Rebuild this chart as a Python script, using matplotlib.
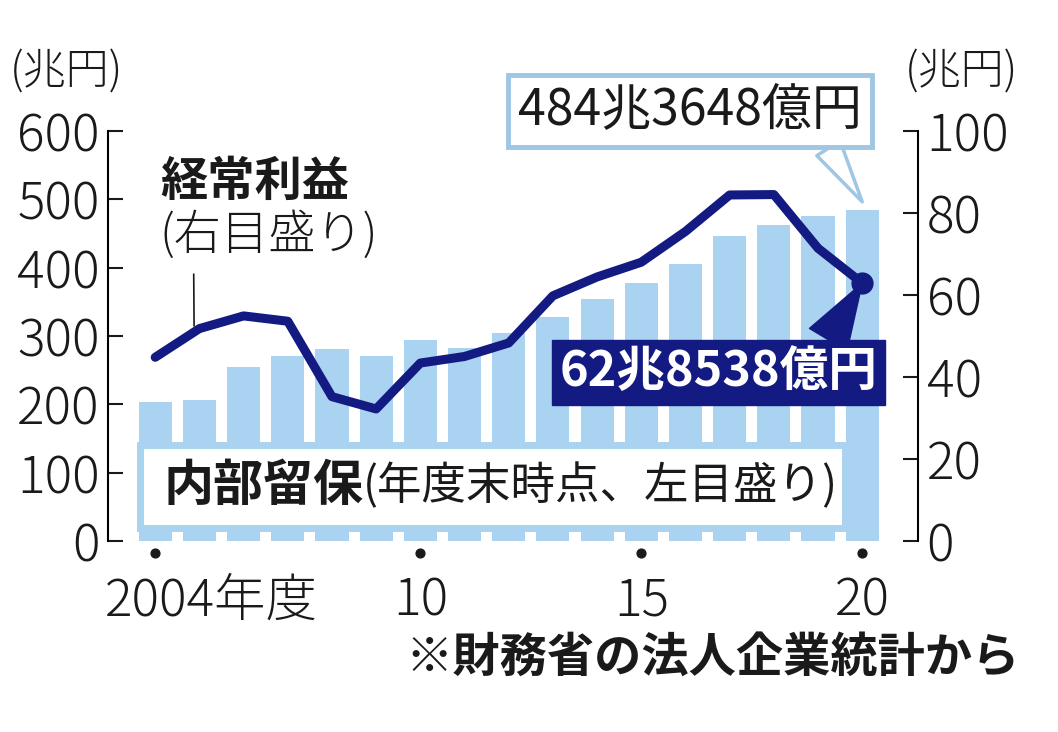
#!/usr/bin/env python3
"""
内部留保と経常利益の推移 (2004-2020年度), 財務省の法人企業統計から.
"""

import numpy as np
import matplotlib
matplotlib.use("Agg")
import matplotlib.pyplot as plt
from matplotlib.patches import Rectangle

plt.rcParams['font.family'] = ['Noto Sans CJK JP', 'DejaVu Sans']

# data
years = list(range(2004, 2021))
retained = [204, 206, 254, 270, 281, 270, 294, 282, 304, 328,
            354, 378, 406, 447, 463, 475, 484.4]        # 兆円, left axis
profit = [44.8, 51.8, 54.9, 53.6, 35.2, 32.2, 43.4, 45.0, 48.3, 59.8,
          64.4, 68.0, 75.5, 84.4, 84.5, 71.4, 62.9]     # 兆円, right axis
xticks = [2004, 2010, 2015, 2020]
xticklabels = ['2004年度', '10', '15', '20']

BAR = '#a9d3f0'
NAVY = '#131b83'
EDGE = '#9fc6e2'
INK = '#1a1a1a'
LIGHT = 'light'


def main():
    fig = plt.figure(figsize=(10.58, 7.32), dpi=100)
    ax = fig.add_axes([0.102, 0.261, 0.766, 0.560])
    ax2 = ax.twinx()

    # bars: retained earnings
    ax.bar(years, retained, width=0.75, color=BAR, zorder=1)
    ax.set_xlim(2002.93, 2021.27)
    ax.set_ylim(0, 600)
    ax.set_yticks(range(0, 601, 100))
    ax.tick_params(axis='y', direction='in', length=11, width=1.5,
                   labelsize=37, pad=6, colors=INK)
    for s in ('top', 'bottom', 'right'):
        ax.spines[s].set_visible(False)
    ax.spines['left'].set_linewidth(1.5)

    # x ticks: dots under the axis + labels
    ax.set_xticks(xticks)
    ax.set_xticklabels(xticklabels)
    ax.tick_params(axis='x', length=0, labelsize=37, pad=24, colors=INK)
    first = ax.get_xticklabels()[0]
    first.set_ha('left')
    first.set_transform(first.get_transform() +
                        matplotlib.transforms.ScaledTranslation(-50 / 100, 0, fig.dpi_scale_trans))
    ax.scatter(xticks, [-0.03] * len(xticks), s=40, color=INK,
               transform=ax.get_xaxis_transform(), clip_on=False, zorder=3)

    # line: ordinary profit
    ax2.plot(years, profit, color=NAVY, linewidth=6.5, solid_joinstyle='round',
             solid_capstyle='round', zorder=3)
    ax2.plot(years[-1], profit[-1], 'o', color=NAVY, markersize=15, zorder=4)
    ax2.set_ylim(0, 100)
    ax2.set_yticks(range(0, 101, 20))
    ax2.tick_params(axis='y', direction='in', length=11, width=1.5,
                    labelsize=37, pad=6, colors=INK)
    for s in ('top', 'bottom', 'left'):
        ax2.spines[s].set_visible(False)
    ax2.spines['right'].set_linewidth(1.5)

    for lab in ax.get_yticklabels() + ax2.get_yticklabels() + ax.get_xticklabels():
        lab.set_fontweight(LIGHT)

    # legend box for the bars
    ax.add_patch(Rectangle((0.040, 0.032), 0.870, 0.202, transform=ax.transAxes,
                           facecolor='white', edgecolor=BAR, linewidth=5, zorder=2))
    t1 = ax.text(0.068, 0.133, '内部留保', transform=ax.transAxes, fontsize=36,
                 fontweight='bold', color=INK, va='center', ha='left', zorder=3)
    ax.annotate('(年度末時点、左目盛り)', xy=(1, 0.5), xycoords=t1, fontsize=32,
                color=INK, va='center', ha='left', zorder=3)

    # label for the line
    fig.text(0.151, 0.751, '経常利益', fontsize=34, fontweight='bold',
             color=INK, va='center', ha='left')
    x_lead = 2004.88
    ax2.annotate('(右目盛り)', xy=(x_lead, np.interp(x_lead, years, profit) + 1.5),
                 xytext=(0.151, 0.678), textcoords='figure fraction',
                 fontsize=34, color=INK, va='center', ha='left', fontweight=LIGHT,
                 arrowprops=dict(arrowstyle='-', color=INK, lw=1.2,
                                 relpos=(0.155, 0.0), shrinkA=8, shrinkB=0))

    # callouts for the last year
    ax.annotate('484兆3648億円', xy=(2020, retained[-1] + 12),
                xytext=(2016.1, 630), textcoords='data',
                fontsize=36, color=INK, ha='center', va='center', zorder=5,
                bbox=dict(boxstyle='square,pad=0.2', fc='white', ec=EDGE, lw=3.5),
                arrowprops=dict(arrowstyle='wedge,tail_width=0.55,shrink_factor=0.5',
                                fc='white', ec=EDGE, lw=2.5, relpos=(0.87, 0.12),
                                shrinkA=0, shrinkB=0))
    ax2.annotate('62兆8538億円', xy=(2020, profit[-1]),
                 xytext=(2016.75, 41.1), textcoords='data',
                 fontsize=35, fontweight='bold', color='white',
                 ha='center', va='center', zorder=5,
                 bbox=dict(boxstyle='square,pad=0.16', fc=NAVY, ec=NAVY, lw=1),
                 arrowprops=dict(arrowstyle='wedge,tail_width=0.9,shrink_factor=0.5',
                                 fc=NAVY, ec=NAVY, lw=1, relpos=(0.82, 0.9),
                                 shrinkA=0, shrinkB=0))

    # units and source
    fig.text(0.009, 0.902, '(兆円)', fontsize=31, color=INK, va='center', ha='left',
             fontweight=LIGHT)
    fig.text(0.855, 0.902, '(兆円)', fontsize=31, color=INK, va='center', ha='left',
             fontweight=LIGHT)
    fig.text(0.964, 0.101, '※財務省の法人企業統計から', fontsize=34,
             fontweight='bold', color=INK, va='center', ha='right')

    fig.savefig('out.png', dpi=100, facecolor='white')


if __name__ == "__main__":
    main()
